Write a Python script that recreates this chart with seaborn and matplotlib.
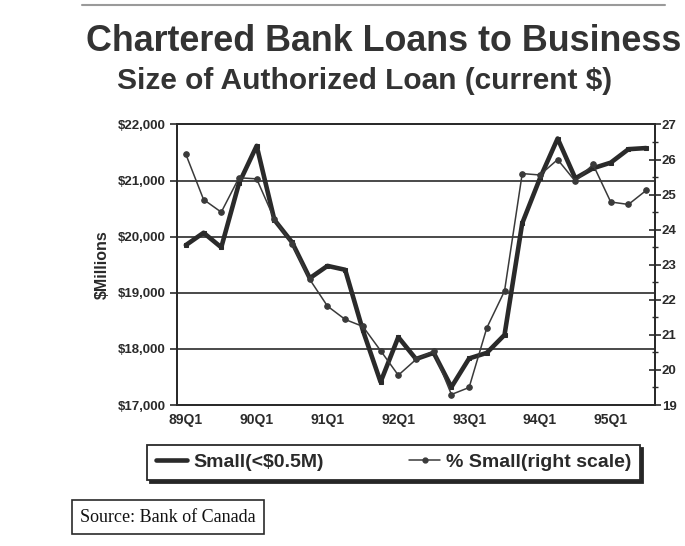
"""Chartered bank loans to business -- small loans vs share of small loans."""

import matplotlib
matplotlib.use("Agg")
import matplotlib.pyplot as plt
from matplotlib.lines import Line2D
import pandas as pd
import seaborn as sns

# Quarterly data, 89Q1 .. 95Q3
quarters = [
    "89Q1", "89Q2", "89Q3", "89Q4", "90Q1", "90Q2", "90Q3", "90Q4",
    "91Q1", "91Q2", "91Q3", "91Q4", "92Q1", "92Q2", "92Q3", "92Q4",
    "93Q1", "93Q2", "93Q3", "93Q4", "94Q1", "94Q2", "94Q3", "94Q4",
    "95Q1", "95Q2", "95Q3",
]
small_loans = [
    19850, 20070, 19810, 20950, 21620, 20300, 19900, 19260,
    19480, 19410, 18330, 17410, 18210, 17820, 17930, 17320,
    17830, 17930, 18250, 20240, 21040, 21750, 21040, 21220,
    21320, 21560, 21580,
]
pct_small = [
    26.15, 24.86, 24.50, 25.48, 25.45, 24.30, 23.60, 22.58,
    21.82, 21.44, 21.24, 20.55, 19.85, 20.30, 20.54, 19.30,
    19.50, 21.20, 22.25, 25.60, 25.56, 26.00, 25.38, 25.86,
    24.79, 24.72, 25.12,
]
left_ticks = [17000, 18000, 19000, 20000, 21000, 22000]
left_labels = ["$17,000", "$18,000", "$19,000", "$20,000", "$21,000", "$22,000"]
right_ticks = [19, 20, 21, 22, 23, 24, 25, 26, 27]
series_labels = ["Small(<$0.5M)", "% Small(right scale)"]

sns.set_style("white")
plt.rcParams["font.family"] = ["Liberation Sans", "DejaVu Sans"]
plt.rcParams["font.weight"] = "bold"

INK = "#2a2a2a"

fig, ax = plt.subplots(figsize=(6.85, 5.46), dpi=100)
fig.subplots_adjust(left=0.2584, right=0.9562, bottom=0.2582, top=0.7720)

df = pd.DataFrame({"pos": range(len(quarters)), "quarter": quarters,
                   "small": small_loans, "pct": pct_small})

sns.lineplot(data=df, x="pos", y="small", ax=ax, color=INK, lw=3.3,
             marker="s", markersize=3, markeredgecolor=INK, legend=False)

ax2 = ax.twinx()
sns.lineplot(data=df, x="pos", y="pct", ax=ax2, color="#3a3a3a", lw=1.1,
             marker="o", markersize=4, markeredgecolor="#3a3a3a", legend=False)

# left axis
ax.set_xlim(-0.5, len(quarters) - 0.5)
ax.set_ylim(17000, 22000)
ax.set_yticks(left_ticks)
ax.set_yticklabels(left_labels)
ax.grid(axis="y", color=INK, lw=1.2)
ax.grid(axis="x", visible=False)
ax.set_xlabel("")
ax.set_ylabel("$Millions", fontsize=11.5, fontweight="bold", color=INK)
ax.yaxis.set_label_coords(-0.14, 0.5)

ax.set_xticks(range(0, len(quarters), 4))
ax.set_xticklabels(quarters[::4])
ax.set_xticks(range(len(quarters)), minor=True)
ax.tick_params(axis="x", which="both", direction="inout", length=9, width=1.2,
               color=INK, labelsize=10, labelcolor=INK, pad=1)
ax.tick_params(axis="y", direction="out", length=5, width=1.2, color=INK,
               labelsize=9.5, labelcolor=INK, pad=3, left=True)

for side in ["left", "bottom", "right", "top"]:
    ax.spines[side].set_color(INK)
    ax.spines[side].set_linewidth(1.3)

# right axis
ax2.set_ylim(19, 27)
ax2.set_yticks(right_ticks)
ax2.set_yticks([t + 0.5 for t in right_ticks[:-1]], minor=True)
ax2.set_ylabel("")
ax2.tick_params(axis="y", which="major", direction="inout", length=8, width=1.2,
                color=INK, labelsize=9.5, labelcolor=INK, pad=1, right=True)
ax2.tick_params(axis="y", which="minor", direction="inout", length=5, width=1.0,
                color=INK, right=True)
ax2.grid(False)
for side in ["left", "bottom", "right", "top"]:
    ax2.spines[side].set_color(INK)
    ax2.spines[side].set_linewidth(1.3)

# titles
fig.text(86 / 685, 1 - 51 / 546, "Chartered Bank Loans to Business",
         fontsize=25.8, fontweight="bold", color="#333333", va="baseline", ha="left")
fig.text(117 / 685, 1 - 89 / 546, "Size of Authorized Loan (current $)",
         fontsize=21.5, fontweight="bold", color="#333333", va="baseline", ha="left")
fig.add_artist(Line2D([82 / 685, 665 / 685], [1 - 5 / 546, 1 - 5 / 546],
                      color="#9a9a9a", lw=1.5))

# legend
handles = [
    Line2D([], [], color=INK, lw=3.3),
    Line2D([], [], color="#3a3a3a", lw=1.1, marker="o", markersize=3.5),
]
leg = fig.legend(handles, series_labels, loc="center", bbox_to_anchor=(0.575, 0.153),
                 ncol=2, frameon=True, fancybox=False, edgecolor=INK,
                 prop={"weight": "bold", "size": 14}, handlelength=1.6,
                 handletextpad=0.3, columnspacing=4.4, borderpad=0.45,
                 shadow={"color": "0.15", "alpha": 1})
leg.get_frame().set_linewidth(1.3)
for t in leg.get_texts():
    t.set_color(INK)

# source note
fig.text(80 / 685, 1 - 517 / 546, "Source: Bank of Canada",
         family=["Liberation Serif", "DejaVu Serif"], fontweight="normal",
         fontsize=13, color="#111111", va="center", ha="left",
         bbox=dict(boxstyle="square,pad=0.45", fc="white", ec=INK, lw=1.2))

fig.savefig("out.png", dpi=100)
plt.close(fig)
